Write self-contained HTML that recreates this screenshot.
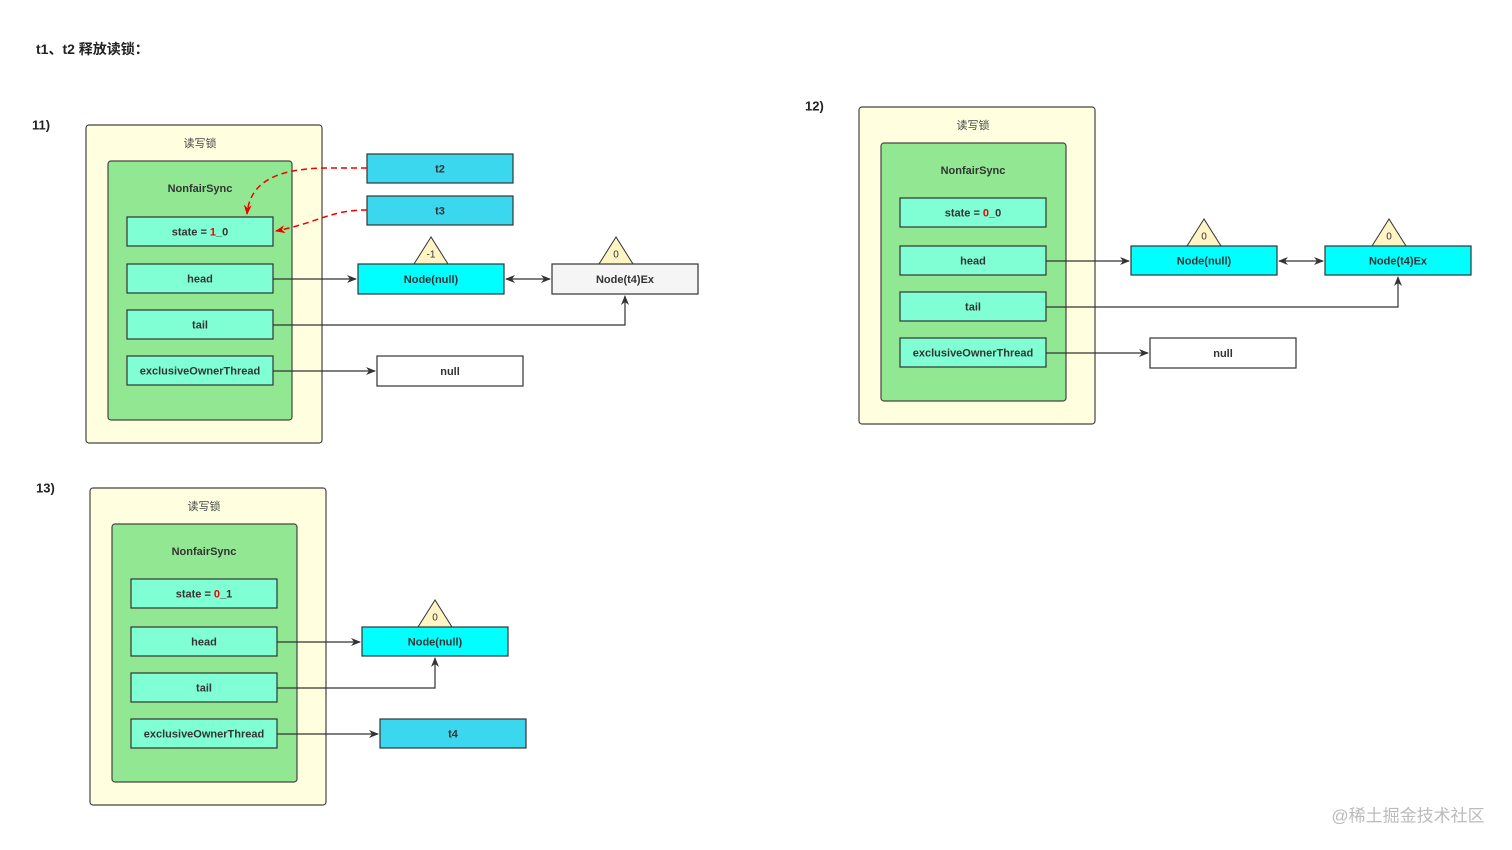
<!DOCTYPE html>
<html><head><meta charset="utf-8"><style>
html,body{margin:0;padding:0;background:#fff;}
svg{display:block;}
text{font-family:"Liberation Sans","Noto Sans CJK SC",sans-serif;font-size:11px;font-weight:bold;fill:#333;text-anchor:middle;dominant-baseline:central;}
.o{fill:#ffffe0;stroke:#444;stroke-width:1.2;}
.i{fill:#92e892;stroke:#444;stroke-width:1.2;}
.b{fill:#80ffd4;stroke:#333;stroke-width:1.2;}
.c{fill:#00ffff;stroke:#333;stroke-width:1.2;}
.t{fill:#3ad7ee;stroke:#333;stroke-width:1.2;}
.w{fill:#fff;stroke:#333;stroke-width:1.2;}
.g{fill:#f5f5f5;stroke:#333;stroke-width:1.2;}
.tri{fill:#fff4c4;stroke:#333;stroke-width:1;}
.l{fill:none;stroke:#333;stroke-width:1.2;}
.r{fill:none;stroke:#e00;stroke-width:1.5;stroke-dasharray:6,4;}
.h{font-size:13px;fill:#222;text-anchor:start;}
.cn{font-weight:normal;fill:#444;}
.red{fill:#e00;}
</style></head><body>
<svg width="1512" height="850" viewBox="0 0 1512 850" xmlns="http://www.w3.org/2000/svg">
<defs>
<marker id="a" markerWidth="10" markerHeight="8" refX="9" refY="4" orient="auto" markerUnits="userSpaceOnUse"><path d="M0,0 L10,4 L0,8 L3,4 z" fill="#333"/></marker>
<marker id="as" markerWidth="10" markerHeight="8" refX="1" refY="4" orient="auto" markerUnits="userSpaceOnUse"><path d="M10,0 L0,4 L10,8 L7,4 z" fill="#333"/></marker>
<marker id="ar" markerWidth="10" markerHeight="8" refX="9" refY="4" orient="auto" markerUnits="userSpaceOnUse"><path d="M0,0 L10,4 L0,8 L3,4 z" fill="#e00"/></marker>
</defs>
<g transform="translate(0,1)">
<text x="36" y="48" class="h" style="font-size:14px">t1、t2 释放读锁：</text>
<text x="32" y="124" class="h">11)</text>
<text x="805" y="105" class="h">12)</text>
<text x="36" y="487" class="h">13)</text>
</g>

<!-- Diagram 11 -->
<rect x="86" y="125" width="236" height="318" rx="3" class="o"/>
<rect x="108" y="161" width="184" height="259" rx="3" class="i"/>
<rect x="127" y="217" width="146" height="29" class="b"/>
<rect x="127" y="264" width="146" height="29" class="b"/>
<rect x="127" y="310" width="146" height="29" class="b"/>
<rect x="127" y="356" width="146" height="29" class="b"/>
<rect x="367" y="154" width="146" height="29" class="t"/>
<rect x="367" y="196" width="146" height="29" class="t"/>
<polygon points="431,237 414,264 448,264" class="tri"/>
<rect x="358" y="264" width="146" height="30" class="c"/>
<polygon points="616,237 599,264 633,264" class="tri"/>
<rect x="552" y="264" width="146" height="30" class="g"/>
<rect x="377" y="356" width="146" height="30" class="w"/>
<path d="M367,168 L330,168 C280,168 250,180 247,214" class="r" marker-end="url(#ar)"/>
<path d="M367,210 C330,210 320,222 276,231" class="r" marker-end="url(#ar)"/>
<line x1="273" y1="279" x2="356" y2="279" class="l" marker-end="url(#a)"/>
<line x1="506" y1="279" x2="550" y2="279" class="l" marker-start="url(#as)" marker-end="url(#a)"/>
<polyline points="273,325 625,325 625,296" class="l" marker-end="url(#a)"/>
<line x1="273" y1="371" x2="375" y2="371" class="l" marker-end="url(#a)"/>
<g transform="translate(0,1)">
<text x="200" y="143" class="cn">读写锁</text>
<text x="200" y="188">NonfairSync</text>
<text x="200" y="231.5">state = <tspan class="red">1</tspan>_0</text>
<text x="200" y="278.5">head</text>
<text x="200" y="324.5">tail</text>
<text x="200" y="370.5">exclusiveOwnerThread</text>
<text x="440" y="168.5">t2</text>
<text x="440" y="210.5">t3</text>
<text x="431" y="254" style="font-size:10px;font-weight:normal">-1</text>
<text x="431" y="279">Node(null)</text>
<text x="616" y="254" style="font-size:10px;font-weight:normal">0</text>
<text x="625" y="279">Node(t4)Ex</text>
<text x="450" y="371">null</text>
</g>

<!-- Diagram 12 -->
<rect x="859" y="107" width="236" height="317" rx="3" class="o"/>
<rect x="881" y="143" width="185" height="258" rx="3" class="i"/>
<rect x="900" y="198" width="146" height="29" class="b"/>
<rect x="900" y="246" width="146" height="29" class="b"/>
<rect x="900" y="292" width="146" height="29" class="b"/>
<rect x="900" y="338" width="146" height="29" class="b"/>
<polygon points="1204,219 1187,246 1221,246" class="tri"/>
<rect x="1131" y="246" width="146" height="29" class="c"/>
<polygon points="1389,219 1372,246 1406,246" class="tri"/>
<rect x="1325" y="246" width="146" height="29" class="c"/>
<rect x="1150" y="338" width="146" height="30" class="w"/>
<line x1="1046" y1="261" x2="1129" y2="261" class="l" marker-end="url(#a)"/>
<line x1="1279" y1="261" x2="1323" y2="261" class="l" marker-start="url(#as)" marker-end="url(#a)"/>
<polyline points="1046,307 1398,307 1398,277" class="l" marker-end="url(#a)"/>
<line x1="1046" y1="353" x2="1148" y2="353" class="l" marker-end="url(#a)"/>
<g transform="translate(0,1)">
<text x="973" y="125" class="cn">读写锁</text>
<text x="973" y="170">NonfairSync</text>
<text x="973" y="212.5">state = <tspan class="red">0</tspan>_0</text>
<text x="973" y="260.5">head</text>
<text x="973" y="306.5">tail</text>
<text x="973" y="352.5">exclusiveOwnerThread</text>
<text x="1204" y="236" style="font-size:10px;font-weight:normal">0</text>
<text x="1204" y="260.5">Node(null)</text>
<text x="1389" y="236" style="font-size:10px;font-weight:normal">0</text>
<text x="1398" y="260.5">Node(t4)Ex</text>
<text x="1223" y="353">null</text>
</g>

<!-- Diagram 13 -->
<rect x="90" y="488" width="236" height="317" rx="3" class="o"/>
<rect x="112" y="524" width="185" height="258" rx="3" class="i"/>
<rect x="131" y="579" width="146" height="29" class="b"/>
<rect x="131" y="627" width="146" height="29" class="b"/>
<rect x="131" y="673" width="146" height="29" class="b"/>
<rect x="131" y="719" width="146" height="29" class="b"/>
<polygon points="435,600 418,627 452,627" class="tri"/>
<rect x="362" y="627" width="146" height="29" class="c"/>
<rect x="380" y="719" width="146" height="29" class="t"/>
<line x1="277" y1="642" x2="360" y2="642" class="l" marker-end="url(#a)"/>
<polyline points="277,688 435,688 435,658" class="l" marker-end="url(#a)"/>
<line x1="277" y1="734" x2="378" y2="734" class="l" marker-end="url(#a)"/>
<g transform="translate(0,1)">
<text x="204" y="506" class="cn">读写锁</text>
<text x="204" y="551">NonfairSync</text>
<text x="204" y="593.5">state = <tspan class="red">0</tspan>_1</text>
<text x="204" y="641.5">head</text>
<text x="204" y="687.5">tail</text>
<text x="204" y="733.5">exclusiveOwnerThread</text>
<text x="435" y="617" style="font-size:10px;font-weight:normal">0</text>
<text x="435" y="641.5">Node(null)</text>
<text x="453" y="733.5">t4</text>
</g>

<text x="1408" y="816" style="font-size:17px;font-weight:normal;fill:#bbb">@稀土掘金技术社区</text>
</svg>
</body></html>
